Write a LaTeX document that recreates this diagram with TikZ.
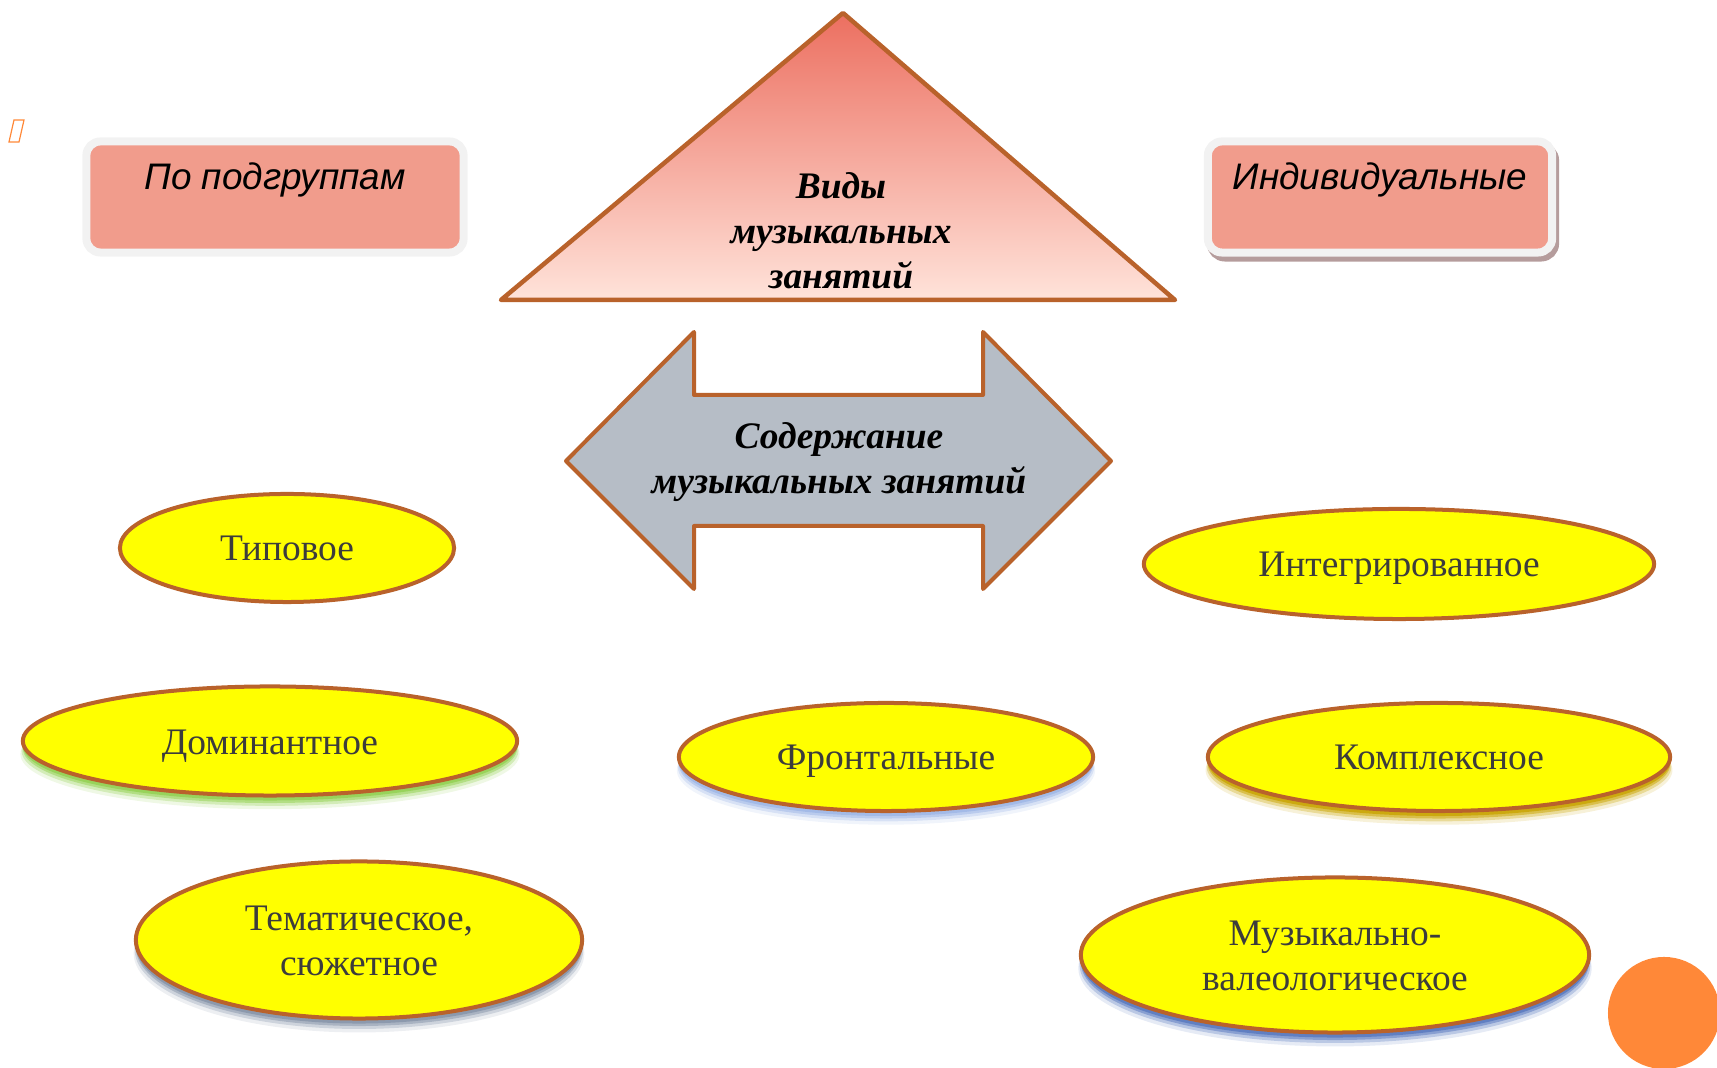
\documentclass[tikz,border=0pt]{standalone}
\usepackage{fontspec}
\setmainfont{Liberation Serif}
\setsansfont{Liberation Sans}
\usetikzlibrary{shapes.geometric, shadows}
\definecolor{rim}{HTML}{B9622B}
\definecolor{salmon}{HTML}{F19C8C}
\definecolor{greyrim}{HTML}{F2F2F2}
\definecolor{boxshade}{HTML}{B59C9C}
\definecolor{arrowgrey}{HTML}{B6BDC6}
\definecolor{lemon}{RGB}{255,255,0}
\definecolor{inktext}{HTML}{3C3C3C}
\definecolor{dotorange}{HTML}{FF8838}
\definecolor{tritop}{HTML}{EC6F60}
\definecolor{trimid}{HTML}{F9BDA6}
\definecolor{tribottom}{HTML}{FFE3DA}
\definecolor{shadowgreen}{HTML}{92D050}
\definecolor{shadowlight}{HTML}{9DB6E6}
\definecolor{shadowgold}{HTML}{C9A400}
\definecolor{shadowgrey}{HTML}{8593A8}
\definecolor{shadowdeep}{HTML}{5677BE}
\tikzset{
	every text node part/.style= {
		align=center
	},
	kind/.style= {
		ellipse,
		draw=rim,
		line width=0.04cm,
		fill=lemon,
		inner sep=0,
		text=inktext,
		text height=9pt,
		text depth=1.6pt,
		font=\fontsize{10.65}{12.8}\selectfont
	},
	twoline/.style= {
		text height=21.8pt
	},
	glow/.style= {
		general shadow={fill=#1, opacity=.15, shadow yshift=-0.13cm, shadow scale=1.01},
		general shadow={fill=#1, opacity=.3, shadow yshift=-0.1cm, shadow scale=1.005},
		general shadow={fill=#1, opacity=.5, shadow yshift=-0.075cm},
		general shadow={fill=#1, opacity=.8, shadow yshift=-0.05cm}
	},
	groupbox/.style= {
		rectangle,
		rounded corners=0.14cm,
		draw=greyrim,
		line width=0.08cm,
		fill=salmon,
		minimum height=1.11cm,
		font=\sffamily\itshape\fontsize{10.5}{12}\selectfont,
		text height=0.3cm,
		text depth=0.44cm
	},
	title/.style= {
		inner sep=0,
		font=\bfseries\itshape\fontsize{10.65}{12.8}\selectfont
	},
}

\begin{document}
\begin{tikzpicture}[x=0.01cm, y=-0.01cm]
	\useasboundingbox (0,0) rectangle (1717,1068);

	% missing bullet glyph
	\draw[dotorange, line width=0.012cm] (9,142) -- (14,120) -- (24,120) -- (19,142) -- cycle;

	% groups
	\node (subgroup) [groupbox, minimum width=3.77cm] at (275,197) {По подгруппам};
	\node (single) [groupbox, minimum width=3.44cm,
		general shadow={fill=boxshade, draw=boxshade, shadow xshift=0.03cm, shadow yshift=-0.05cm}] at (1380,197) {Индивидуальные};

	% triangle
	\coordinate (apex) at (843,13);
	\coordinate (baseleft) at (501,300);
	\coordinate (baseright) at (1175,300);
	\shade[top color=tritop, middle color=trimid, bottom color=tribottom, draw=rim, line width=0.045cm, line join=round]
		(apex) -- (baseleft) -- (baseright) -- cycle;
	\node (kinds) [title] at (841,231) {Виды\\музыкальных\\занятий};

	% double arrow
	\filldraw[fill=arrowgrey, draw=rim, line width=0.04cm, line join=round]
		(566,461) -- (694,332) -- (694,395) -- (983,395) -- (983,332) -- (1111,461)
		-- (983,589) -- (983,526) -- (694,526) -- (694,589) -- cycle;
	\node (content) [title] at (839,462) {Содержание\\музыкальных занятий};

	% kinds of lessons
	\node (typical) [kind, minimum width=3.34cm, minimum height=1.08cm] at (287,548) {Типовое};
	\node (integrated) [kind, minimum width=5.10cm, minimum height=1.10cm] at (1399,564) {Интегрированное};
	\node (dominant) [kind, glow=shadowgreen, minimum width=4.94cm, minimum height=1.09cm] at (270,741) {Доминантное};
	\node (frontal) [kind, glow=shadowlight, minimum width=4.14cm, minimum height=1.08cm] at (886,757) {Фронтальные};
	\node (complex) [kind, glow=shadowgold, minimum width=4.62cm, minimum height=1.08cm] at (1439,757) {Комплексное};
	\node (thematic) [kind, twoline, glow=shadowgrey, minimum width=4.46cm, minimum height=1.57cm] at (359,940) {Тематическое,\\сюжетное};
	\node (valeo) [kind, twoline, glow=shadowdeep, minimum width=5.08cm, minimum height=1.55cm] at (1335,955) {Музыкально-\\валеологическое};

	\node (dot) [circle, fill=dotorange, minimum size=1.12cm, inner sep=0] at (1664,1013) {};
\end{tikzpicture}
\end{document}
